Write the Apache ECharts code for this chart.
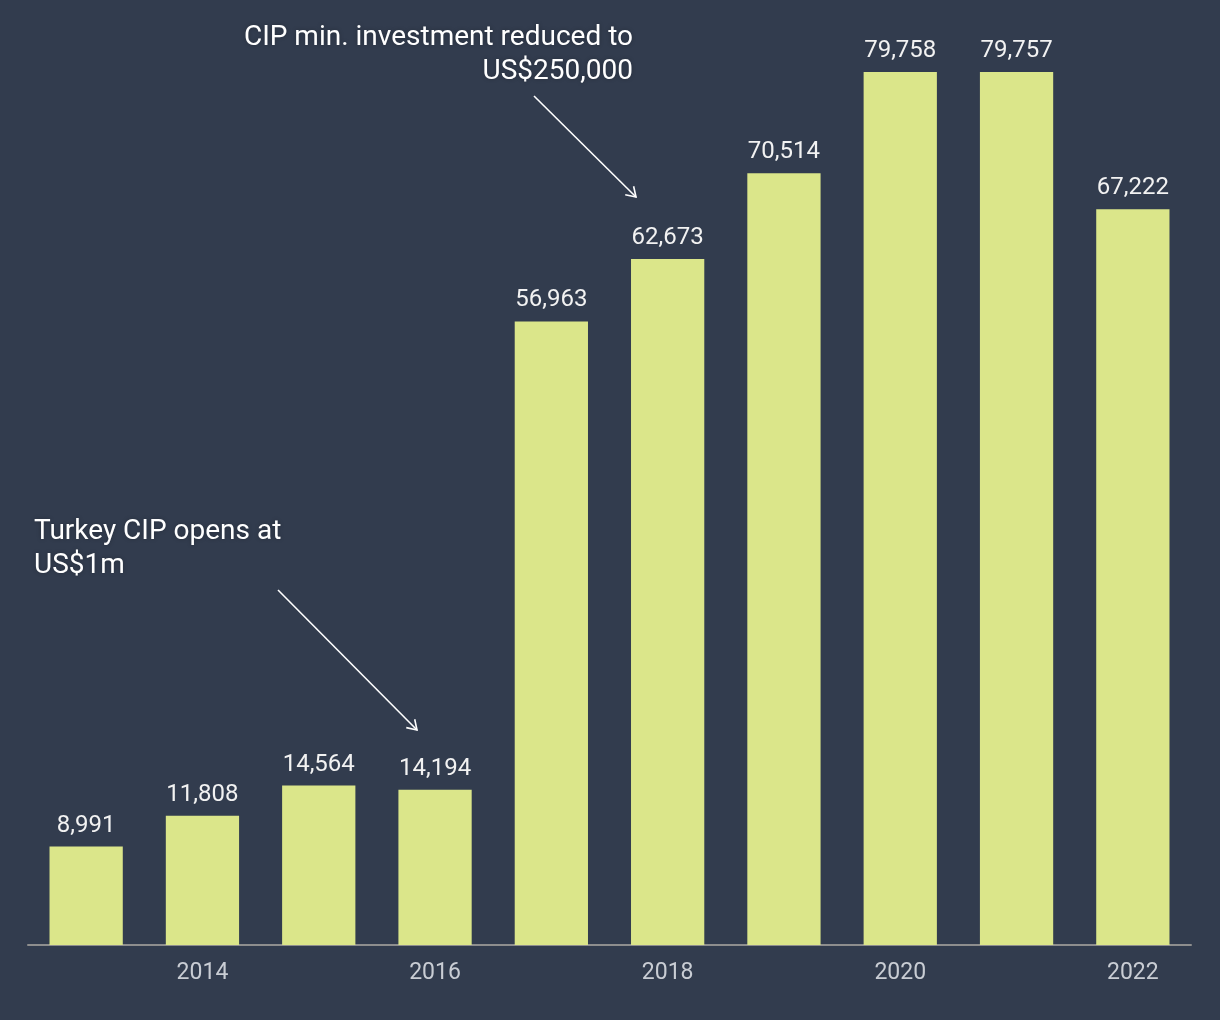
<!DOCTYPE html>
<html>
<head>
<meta charset="utf-8">
<script src="https://cdn.jsdelivr.net/npm/echarts@6/dist/echarts.min.js"></script>
<style>
html,body{margin:0;padding:0;background:#323c4e;}
#chart{width:1220px;height:1020px;}
</style>
</head>
<body>
<div id="chart"></div>
<script>
const years = ['2013','2014','2015','2016','2017','2018','2019','2020','2021','2022'];
const values = [8991, 11808, 14564, 14194, 56963, 62673, 70514, 79758, 79757, 67222];
const shownTicks = ['2014','2016','2018','2020','2022'];

const chart = echarts.init(document.getElementById('chart'));
const font = 'Roboto, "Noto Sans", sans-serif';

function arrow(x1, y1, x2, y2) {
  const ang = Math.atan2(y2 - y1, x2 - x1);
  const L = 11, a = Math.PI / 5.5;
  return [
    {type:'line', shape:{x1, y1, x2, y2}, style:{stroke:'#ffffff', lineWidth:1.6}, silent:true},
    {type:'polyline', shape:{points:[
      [x2 - L*Math.cos(ang - a), y2 - L*Math.sin(ang - a)],
      [x2, y2],
      [x2 - L*Math.cos(ang + a), y2 - L*Math.sin(ang + a)]
    ]}, style:{stroke:'#ffffff', lineWidth:1.6, fill:null}, silent:true}
  ];
}

chart.setOption({
  backgroundColor: '#323c4e',
  animation: false,
  grid: {left: 28, right: 29, top: 69.3, bottom: 75, containLabel: false},
  xAxis: {
    type: 'category',
    data: years,
    axisLine: {show: true, lineStyle: {color: '#8e8e8e', width: 2}},
    axisTick: {show: false},
    axisLabel: {
      color: '#c9cdd4', fontSize: 23, fontFamily: font, margin: 17,
      interval: 0,
      formatter: v => shownTicks.includes(v) ? v : ''
    }
  },
  yAxis: {
    type: 'value', min: 0, max: 80000,
    show: false,
    splitLine: {show: false}
  },
  series: [{
    type: 'bar',
    data: values,
    barCategoryGap: '37%',
    itemStyle: {color: '#dbe68a'},
    label: {
      show: true, position: 'top', distance: 9,
      color: '#f2f2f2', fontSize: 24, fontFamily: font,
      formatter: p => p.value.toLocaleString('en-US')
    }
  }],
  graphic: [
    {type:'text', x: 34, y: 515, style:{
      text:'Turkey CIP opens at\nUS$1m', fill:'#ffffff', fontSize:28, fontFamily:font, lineHeight:34,
      textShadowColor:'rgba(0,0,0,0.25)', textShadowBlur:4}},
    {type:'text', x: 633, y: 21, style:{
      text:'CIP min. investment reduced to\nUS$250,000', fill:'#ffffff', fontSize:28, fontFamily:font, lineHeight:34,
      align:'right', textShadowColor:'rgba(0,0,0,0.25)', textShadowBlur:4}},
    ...arrow(278, 590, 417, 730),
    ...arrow(534, 96, 636, 197)
  ]
});
</script>
</body>
</html>
